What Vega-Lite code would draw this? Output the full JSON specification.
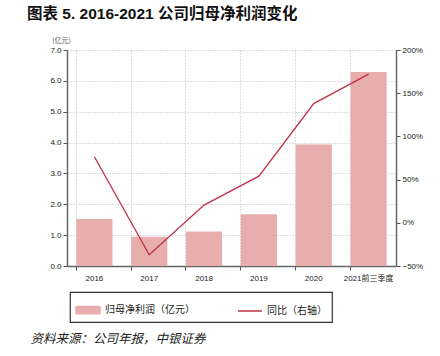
{
  "$schema": "https://vega.github.io/schema/vega-lite/v6.json",
  "width": 329,
  "height": 216,
  "autosize": {"type": "none"},
  "padding": {"left": 67, "top": 50, "right": 44, "bottom": 90},
  "background": "white",
  "title": {
    "text": "图表 5. 2016-2021 公司归母净利润变化",
    "frame": "group",
    "anchor": "start",
    "dx": -40,
    "offset": 14,
    "fontSize": 15.5,
    "fontWeight": "bold",
    "font": "Liberation Sans, Noto Sans CJK SC",
    "color": "#111"
  },
  "data": {
    "values": [
      {"year": "2016", "profit": 1.52, "yoy": 0.765},
      {"year": "2017", "profit": 0.95, "yoy": -0.37},
      {"year": "2018", "profit": 1.12, "yoy": 0.205},
      {"year": "2019", "profit": 1.68, "yoy": 0.54},
      {"year": "2020", "profit": 3.94, "yoy": 1.38},
      {"year": "2021前三季度", "profit": 6.29, "yoy": 1.72}
    ]
  },
  "config": {
    "font": "Liberation Sans",
    "view": {"stroke": null},
    "axis": {"labelFontSize": 8, "labelColor": "#222", "domainColor": "#666", "domainWidth": 1.5, "tickColor": "#555", "tickSize": 4}
  },
  "encoding": {
    "x": {
      "field": "year",
      "type": "nominal",
      "sort": null,
      "scale": {"paddingInner": 0.34, "paddingOuter": 0.17},
      "axis": {
        "labelAngle": 0,
        "bandPosition": 0,
        "grid": true,
        "gridDash": [1, 2],
        "gridColor": "#bbb",
        "labelPadding": 4,
        "labelFont": "Liberation Sans, Noto Sans CJK SC",
        "title": "资料来源：公司年报，中银证券",
        "titleFont": "Noto Sans CJK SC",
        "titleFontStyle": "italic",
        "titleFontWeight": "normal",
        "titleFontSize": 12.5,
        "titleColor": "#222",
        "titleAnchor": "start",
        "titleAlign": "left",
        "titleBaseline": "alphabetic",
        "titleX": -37,
        "titleY": 76
      }
    }
  },
  "layer": [
    {
      "mark": {"type": "bar", "color": "#e8aeae"},
      "encoding": {
        "y": {
          "field": "profit",
          "type": "quantitative",
          "scale": {"domain": [0, 7]},
          "axis": {
            "values": [0, 1, 2, 3, 4, 5, 6, 7],
            "format": ".1f",
            "grid": true,
            "gridDash": [1, 2],
            "gridColor": "#bbb",
            "title": "(亿元)",
            "titleFont": "Noto Sans CJK SC",
            "titleFontSize": 7,
            "titleFontWeight": "normal",
            "titleColor": "#555",
            "titleAngle": 0,
            "titleX": -6,
            "titleY": -7,
            "titleAlign": "center",
            "titleBaseline": "bottom"
          }
        },
        "color": {
          "datum": "归母净利润（亿元）",
          "type": "nominal",
          "scale": {"domain": ["归母净利润（亿元）", "同比（右轴）"], "range": ["#e8aeae", "#c0304a"]},
          "legend": {
            "orient": "none",
            "direction": "horizontal",
            "legendX": 3,
            "legendY": 242,
            "title": "\u3000\u3000\u3000",
            "titleOrient": "left",
            "titleFontSize": 10,
            "titlePadding": 0,
            "padding": 5,
            "strokeColor": "#333",
            "labelFont": "Noto Sans CJK SC",
            "labelFontSize": 10,
            "labelColor": "#222",
            "labelOffset": 4,
            "columnPadding": 40,
            "symbolSize": 576,
            "labelExpr": "datum.value === '同比（右轴）' ? datum.value + '\u3000\u3000\u3000' : datum.value",
            "encode": {
              "legend": {"update": {"strokeWidth": {"value": 1.2}}},
              "symbols": {
                "update": {
                  "shape": {"signal": "datum.value === '同比（右轴）' ? 'stroke' : 'M-1,-0.3H1V0.3H-1Z'"},
                  "fill": {"signal": "datum.value === '同比（右轴）' ? 'transparent' : '#e8aeae'"},
                  "stroke": {"signal": "datum.value === '同比（右轴）' ? '#c0304a' : 'transparent'"},
                  "strokeWidth": {"value": 1.5}
                }
              }
            }
          }
        }
      }
    },
    {
      "mark": {"type": "line", "strokeWidth": 1.3},
      "encoding": {
        "y": {
          "field": "yoy",
          "type": "quantitative",
          "scale": {"domain": [-0.5, 2]},
          "axis": {
            "orient": "right",
            "values": [-0.5, 0, 0.5, 1, 1.5, 2],
            "format": ".0%",
            "grid": false,
            "title": null
          }
        },
        "color": {"datum": "同比（右轴）", "type": "nominal"}
      }
    }
  ],
  "resolve": {"scale": {"y": "independent"}}
}
